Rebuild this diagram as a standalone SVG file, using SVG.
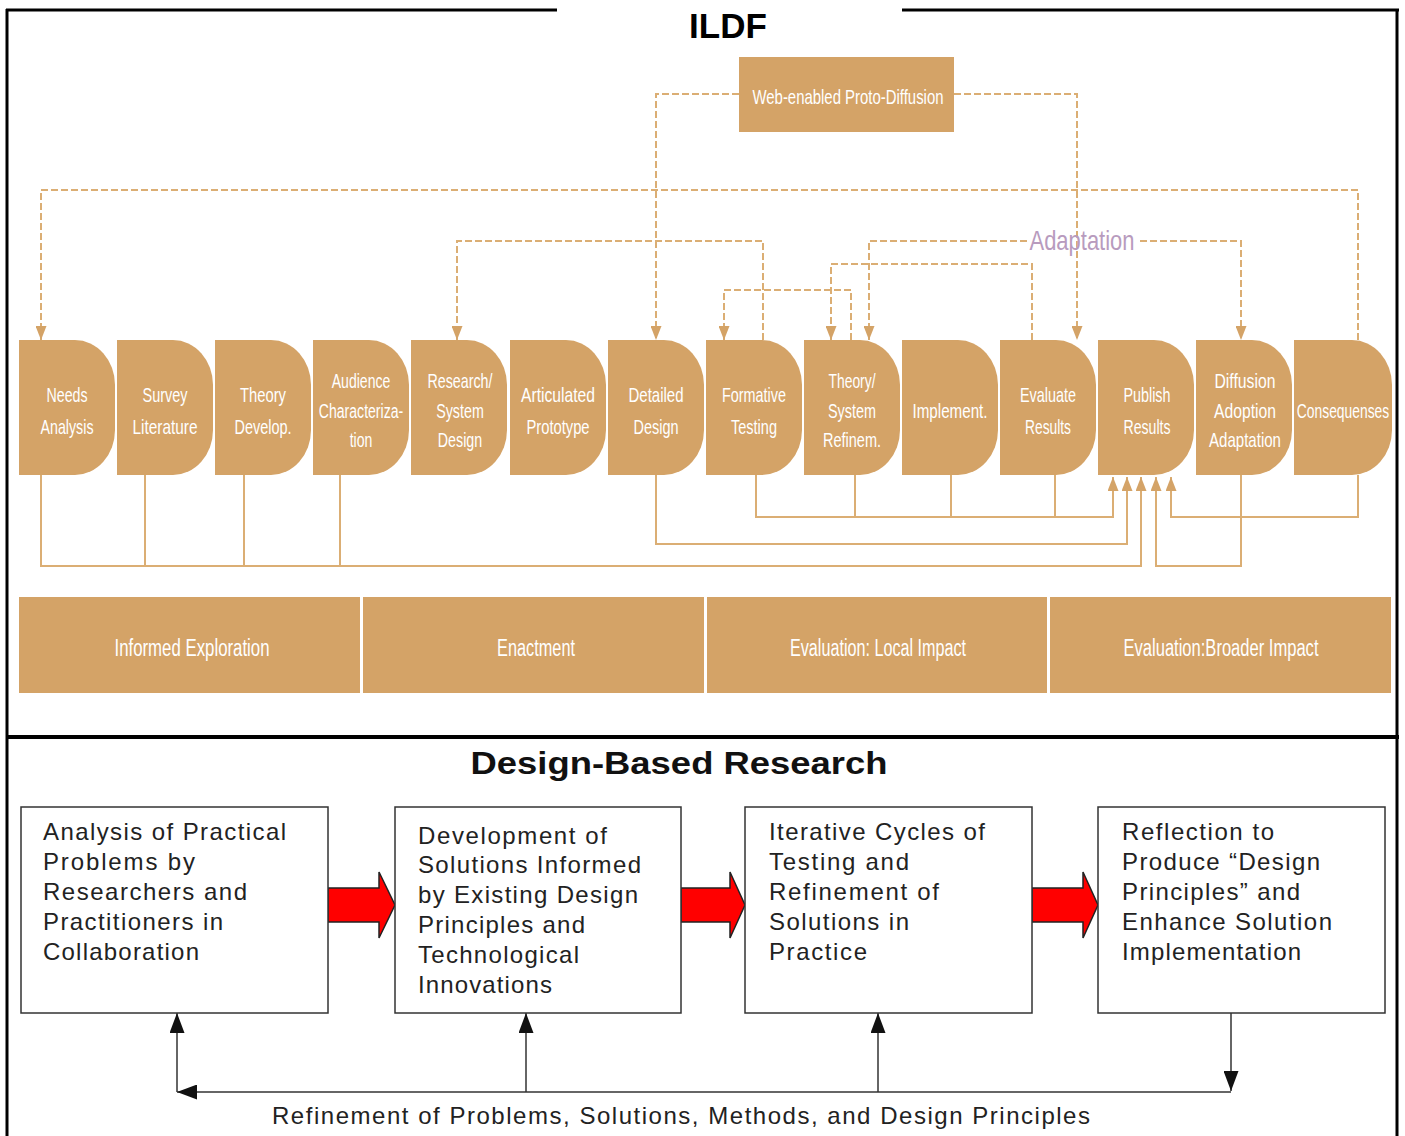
<svg xmlns="http://www.w3.org/2000/svg" width="1405" height="1136" viewBox="0 0 1405 1136">
<defs>
<style>
.frame{stroke:#000;fill:none}
.node{fill:#D4A367}
.phase{fill:#D4A367}
.lbl{font-family:"Liberation Sans",Arial,sans-serif;fill:#fff;text-anchor:middle;font-size:21px}
.plbl{font-family:"Liberation Sans",Arial,sans-serif;fill:#fff;text-anchor:middle;font-size:23px}
.dash{fill:none;stroke:#DBAE74;stroke-width:2;stroke-dasharray:7 3}
.solid{fill:none;stroke:#DBAE74;stroke-width:2}
.box{fill:#fff;stroke:#333;stroke-width:1.5}
.bt{font-family:"Liberation Sans",Arial,sans-serif;font-size:24px;fill:#222}
.blk{fill:none;stroke:#333;stroke-width:1.5}
.red{fill:#FF0000;stroke:#222;stroke-width:1.5}
</style>
<marker id="ta" markerUnits="userSpaceOnUse" markerWidth="14" markerHeight="11" viewBox="0 0 14 11" refX="14" refY="5.5" orient="auto"><path d="M0,0 L14,5.5 L0,11 Z" fill="#D4A367"/></marker>
<marker id="ba" markerUnits="userSpaceOnUse" markerWidth="20" markerHeight="15" viewBox="0 0 20 15" refX="20" refY="7.5" orient="auto"><path d="M0,0 L20,7.5 L0,15 Z" fill="#111"/></marker>
</defs>
<rect width="1405" height="1136" fill="#fff"/>

<g id="frame" class="frame">
<path d="M6 10 H557 M902 10 H1399" stroke-width="3"/>
<path d="M7 9 V1136 M1397 9 V1136" stroke-width="3"/>
<path d="M6 737 H1399" stroke-width="4"/>
</g>
<text x="728" y="38" font-family="Liberation Sans,Arial,sans-serif" font-weight="bold" font-size="35" text-anchor="middle" fill="#000">ILDF</text>

<g id="connectors">
<path class="dash" d="M739 94 H656 V340" marker-end="url(#ta)"/>
<path class="dash" d="M954 94 H1077 V340" marker-end="url(#ta)"/>
<path class="dash" d="M1358 340 V190 H41 V340" marker-end="url(#ta)"/>
<path class="dash" d="M763 340 V241 H457 V340" marker-end="url(#ta)"/>
<path class="dash" d="M1027 241 H869 V340" marker-end="url(#ta)"/>
<path class="dash" d="M1140 241 H1241 V340" marker-end="url(#ta)"/>
<path class="dash" d="M1032 340 V264 H831 V340" marker-end="url(#ta)"/>
<path class="dash" d="M851 340 V290 H724 V340" marker-end="url(#ta)"/>
<path class="solid" d="M41 475 V566 H1141 V477" marker-end="url(#ta)"/>
<path class="solid" d="M145 475 V566 M244 475 V566 M340 475 V566"/>
<path class="solid" d="M656 475 V544 H1127 V477" marker-end="url(#ta)"/>
<path class="solid" d="M756 475 V517 H1113 V477" marker-end="url(#ta)"/>
<path class="solid" d="M855 475 V517 M951 475 V517 M1055 475 V517"/>
<path class="solid" d="M1241 475 V566 H1156 V477" marker-end="url(#ta)"/>
<path class="solid" d="M1358 475 V517 H1171 V477" marker-end="url(#ta)"/>
<path class="red" d="M328 888 H379 V872 L395 905 L379 938 V922 H328 Z"/>
<path class="red" d="M681 888 H730 V872 L745 905 L730 938 V922 H681 Z"/>
<path class="red" d="M1032 888 H1083 V872 L1098 905 L1083 938 V922 H1032 Z"/>
<path class="blk" d="M1231 1092 H177" marker-end="url(#ba)"/>
<path class="blk" d="M177 1092 V1013" marker-end="url(#ba)"/>
<path class="blk" d="M526 1092 V1013" marker-end="url(#ba)"/>
<path class="blk" d="M878 1092 V1013" marker-end="url(#ba)"/>
<path class="blk" d="M1231 1013 V1091" marker-end="url(#ba)"/>
</g>
<text x="1082" y="250" font-family="Liberation Sans,Arial,sans-serif" font-size="28" text-anchor="middle" fill="#B89BBE" textLength="105" lengthAdjust="spacingAndGlyphs">Adaptation</text>

<g id="web">
<rect x="739" y="57" width="215" height="75" fill="#D4A367"/>
<text class="lbl" x="848" y="104" textLength="191" lengthAdjust="spacingAndGlyphs">Web-enabled Proto-Diffusion</text>
</g>

<g id="n1"><path class="node" d="M19 340 H75 A40 45 0 0 1 115 385 V430 A40 45 0 0 1 75 475 H19 Z"/>
<text class="lbl"><tspan x="67" y="402" textLength="41" lengthAdjust="spacingAndGlyphs">Needs</tspan><tspan x="67" y="434" textLength="53" lengthAdjust="spacingAndGlyphs">Analysis</tspan></text></g>
<g id="n2"><path class="node" d="M117 340 H173 A40 45 0 0 1 213 385 V430 A40 45 0 0 1 173 475 H117 Z"/>
<text class="lbl"><tspan x="165" y="402" textLength="45" lengthAdjust="spacingAndGlyphs">Survey</tspan><tspan x="165" y="434" textLength="65" lengthAdjust="spacingAndGlyphs">Literature</tspan></text></g>
<g id="n3"><path class="node" d="M215 340 H271 A40 45 0 0 1 311 385 V430 A40 45 0 0 1 271 475 H215 Z"/>
<text class="lbl"><tspan x="263" y="402" textLength="46" lengthAdjust="spacingAndGlyphs">Theory</tspan><tspan x="263" y="434" textLength="57" lengthAdjust="spacingAndGlyphs">Develop.</tspan></text></g>
<g id="n4"><path class="node" d="M313 340 H369 A40 45 0 0 1 409 385 V430 A40 45 0 0 1 369 475 H313 Z"/>
<text class="lbl" transform="translate(361,0) scale(0.67,1)"><tspan x="0" y="388">Audience</tspan><tspan x="0" y="418">Characteriza-</tspan><tspan x="0" y="447">tion</tspan></text></g>
<g id="n5"><path class="node" d="M411 340 H467 A40 45 0 0 1 507 385 V430 A40 45 0 0 1 467 475 H411 Z"/>
<text class="lbl" transform="translate(460,0) scale(0.68,1)"><tspan x="0" y="388">Research/</tspan><tspan x="0" y="418">System</tspan><tspan x="0" y="447">Design</tspan></text></g>
<g id="n6"><path class="node" d="M510 340 H566 A40 45 0 0 1 606 385 V430 A40 45 0 0 1 566 475 H510 Z"/>
<text class="lbl"><tspan x="558" y="402" textLength="74" lengthAdjust="spacingAndGlyphs">Articulated</tspan><tspan x="558" y="434" textLength="63" lengthAdjust="spacingAndGlyphs">Prototype</tspan></text></g>
<g id="n7"><path class="node" d="M608 340 H664 A40 45 0 0 1 704 385 V430 A40 45 0 0 1 664 475 H608 Z"/>
<text class="lbl"><tspan x="656" y="402" textLength="55" lengthAdjust="spacingAndGlyphs">Detailed</tspan><tspan x="656" y="434" textLength="45" lengthAdjust="spacingAndGlyphs">Design</tspan></text></g>
<g id="n8"><path class="node" d="M706 340 H762 A40 45 0 0 1 802 385 V430 A40 45 0 0 1 762 475 H706 Z"/>
<text class="lbl"><tspan x="754" y="402" textLength="64" lengthAdjust="spacingAndGlyphs">Formative</tspan><tspan x="754" y="434" textLength="46" lengthAdjust="spacingAndGlyphs">Testing</tspan></text></g>
<g id="n9"><path class="node" d="M804 340 H860 A40 45 0 0 1 900 385 V430 A40 45 0 0 1 860 475 H804 Z"/>
<text class="lbl"><tspan x="852" y="388" textLength="47" lengthAdjust="spacingAndGlyphs">Theory/</tspan><tspan x="852" y="418" textLength="48" lengthAdjust="spacingAndGlyphs">System</tspan><tspan x="852" y="447" textLength="58" lengthAdjust="spacingAndGlyphs">Refinem.</tspan></text></g>
<g id="n10"><path class="node" d="M902 340 H958 A40 45 0 0 1 998 385 V430 A40 45 0 0 1 958 475 H902 Z"/>
<text class="lbl"><tspan x="950" y="418" textLength="75" lengthAdjust="spacingAndGlyphs">Implement.</tspan></text></g>
<g id="n11"><path class="node" d="M1000 340 H1056 A40 45 0 0 1 1096 385 V430 A40 45 0 0 1 1056 475 H1000 Z"/>
<text class="lbl"><tspan x="1048" y="402" textLength="56" lengthAdjust="spacingAndGlyphs">Evaluate</tspan><tspan x="1048" y="434" textLength="46" lengthAdjust="spacingAndGlyphs">Results</tspan></text></g>
<g id="n12"><path class="node" d="M1098 340 H1154 A40 45 0 0 1 1194 385 V430 A40 45 0 0 1 1154 475 H1098 Z"/>
<text class="lbl"><tspan x="1147" y="402" textLength="47" lengthAdjust="spacingAndGlyphs">Publish</tspan><tspan x="1147" y="434" textLength="47" lengthAdjust="spacingAndGlyphs">Results</tspan></text></g>
<g id="n13"><path class="node" d="M1196 340 H1252 A40 45 0 0 1 1292 385 V430 A40 45 0 0 1 1252 475 H1196 Z"/>
<text class="lbl"><tspan x="1245" y="388" textLength="61" lengthAdjust="spacingAndGlyphs">Diffusion</tspan><tspan x="1245" y="418" textLength="62" lengthAdjust="spacingAndGlyphs">Adoption</tspan><tspan x="1245" y="447" textLength="72" lengthAdjust="spacingAndGlyphs">Adaptation</tspan></text></g>
<g id="n14"><path class="node" d="M1294 340 H1352 A40 45 0 0 1 1392 385 V430 A40 45 0 0 1 1352 475 H1294 Z"/>
<text class="lbl" transform="translate(1343,418) scale(0.66,1)" x="0" y="0">Consequenses</text></g>

<g id="p1"><rect class="phase" x="19" y="597" width="341" height="96"/><text class="plbl" x="192" y="656" textLength="155" lengthAdjust="spacingAndGlyphs">Informed Exploration</text></g>
<g id="p2"><rect class="phase" x="363" y="597" width="341" height="96"/><text class="plbl" x="536" y="656" textLength="78" lengthAdjust="spacingAndGlyphs">Enactment</text></g>
<g id="p3"><rect class="phase" x="707" y="597" width="340" height="96"/><text class="plbl" x="878" y="656" textLength="176" lengthAdjust="spacingAndGlyphs">Evaluation: Local Impact</text></g>
<g id="p4"><rect class="phase" x="1050" y="597" width="341" height="96"/><text class="plbl" x="1221" y="656" textLength="195" lengthAdjust="spacingAndGlyphs">Evaluation:Broader Impact</text></g>

<text x="679" y="774" font-family="Liberation Sans,Arial,sans-serif" font-weight="bold" font-size="32" text-anchor="middle" fill="#111" textLength="417" lengthAdjust="spacingAndGlyphs">Design-Based Research</text>

<g id="b1"><rect class="box" x="21" y="807" width="307" height="206"/>
<text class="bt"><tspan x="43" y="840" textLength="243">Analysis of Practical</tspan><tspan x="43" y="870" textLength="152">Problems by</tspan><tspan x="43" y="900" textLength="204">Researchers and</tspan><tspan x="43" y="930" textLength="180">Practitioners in</tspan><tspan x="43" y="960" textLength="156">Collaboration</tspan></text></g>
<g id="b2"><rect class="box" x="395" y="807" width="286" height="206"/>
<text class="bt"><tspan x="418" y="844" textLength="189">Development of</tspan><tspan x="418" y="873" textLength="223">Solutions Informed</tspan><tspan x="418" y="903" textLength="220">by Existing Design</tspan><tspan x="418" y="933" textLength="167">Principles and</tspan><tspan x="418" y="963" textLength="161">Technological</tspan><tspan x="418" y="993" textLength="134">Innovations</tspan></text></g>
<g id="b3"><rect class="box" x="745" y="807" width="287" height="206"/>
<text class="bt"><tspan x="769" y="840" textLength="216">Iterative Cycles of</tspan><tspan x="769" y="870" textLength="140">Testing and</tspan><tspan x="769" y="900" textLength="170">Refinement of</tspan><tspan x="769" y="930" textLength="140">Solutions in</tspan><tspan x="769" y="960" textLength="98">Practice</tspan></text></g>
<g id="b4"><rect class="box" x="1098" y="807" width="287" height="206"/>
<text class="bt"><tspan x="1122" y="840" textLength="152">Reflection to</tspan><tspan x="1122" y="870" textLength="198">Produce “Design</tspan><tspan x="1122" y="900" textLength="178">Principles” and</tspan><tspan x="1122" y="930" textLength="210">Enhance Solution</tspan><tspan x="1122" y="960" textLength="179">Implementation</tspan></text></g>

<text class="bt" x="272" y="1124" font-size="23" textLength="818">Refinement of Problems, Solutions, Methods, and Design Principles</text>
</svg>
